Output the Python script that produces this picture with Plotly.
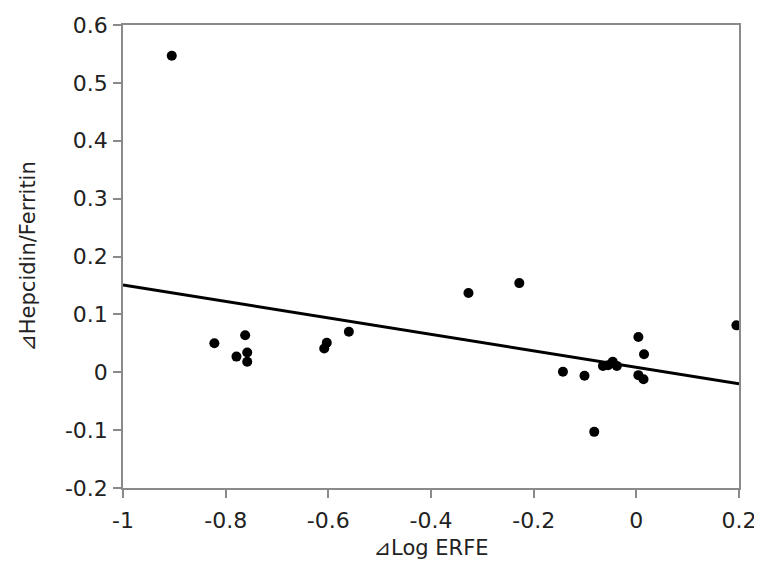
import plotly.graph_objects as go

# Data
delta_log_erfe = [-0.905, -0.822, -0.762, -0.779, -0.758, -0.758, -0.603, -0.608, -0.560,
                  -0.327, -0.228, -0.143, -0.101, -0.082, -0.065, -0.055, -0.046, -0.038,
                  0.004, 0.015, 0.004, 0.014, 0.195]
delta_hep_ferritin = [0.547, 0.050, 0.064, 0.027, 0.034, 0.018, 0.051, 0.041, 0.070,
                      0.137, 0.154, 0.001, -0.006, -0.103, 0.011, 0.012, 0.018, 0.011,
                      0.061, 0.031, -0.005, -0.012, 0.081]

# Regression line
fit_intercept = 0.0085
fit_slope = -0.1425
fit_x = [-1.0, 0.2]
fit_y = [fit_intercept + fit_slope * x for x in fit_x]

x_ticks = [-1, -0.8, -0.6, -0.4, -0.2, 0, 0.2]
x_tick_labels = ["-1", "-0.8", "-0.6", "-0.4", "-0.2", "0", "0.2"]
y_ticks = [-0.2, -0.1, 0, 0.1, 0.2, 0.3, 0.4, 0.5, 0.6]
y_tick_labels = ["-0.2", "-0.1", "0", "0.1", "0.2", "0.3", "0.4", "0.5", "0.6"]

fig = go.Figure()
fig.add_trace(go.Scatter(x=fit_x, y=fit_y, mode="lines",
                         line=dict(color="black", width=3), showlegend=False))
fig.add_trace(go.Scatter(x=delta_log_erfe, y=delta_hep_ferritin, mode="markers",
                         marker=dict(color="black", size=10), showlegend=False))

tick_font = dict(family="DejaVu Sans, Verdana, sans-serif", size=22, color="#222")
title_font = dict(family="DejaVu Sans, Verdana, sans-serif", size=21, color="#222")
axis_common = dict(showline=True, linecolor="#8a8a8a", linewidth=1.5, mirror=True,
                   ticks="outside", ticklen=8, tickcolor="#8a8a8a", tickwidth=1.5,
                   showgrid=False, zeroline=False, tickfont=tick_font,
                   automargin=False, ticklabeloverflow="allow")

# page body has an 8px margin, so the figure is offset by 8px
fig.update_layout(
    width=754, height=552,
    margin=dict(l=115, r=23, t=17, b=72),
    paper_bgcolor="white", plot_bgcolor="white",
    font=tick_font,
    xaxis=dict(range=[-1, 0.2], tickvals=x_ticks, ticktext=x_tick_labels,
               title=dict(text="⊿Log ERFE", font=title_font, standoff=15),
               ticklabelstandoff=4,
               **axis_common),
    yaxis=dict(range=[-0.2, 0.6], tickvals=y_ticks, ticktext=y_tick_labels,
               title=dict(text="⊿Hepcidin/Ferritin", font=title_font, standoff=24),
               ticklabelstandoff=1,
               **axis_common),
)

fig.write_html("out.html")
